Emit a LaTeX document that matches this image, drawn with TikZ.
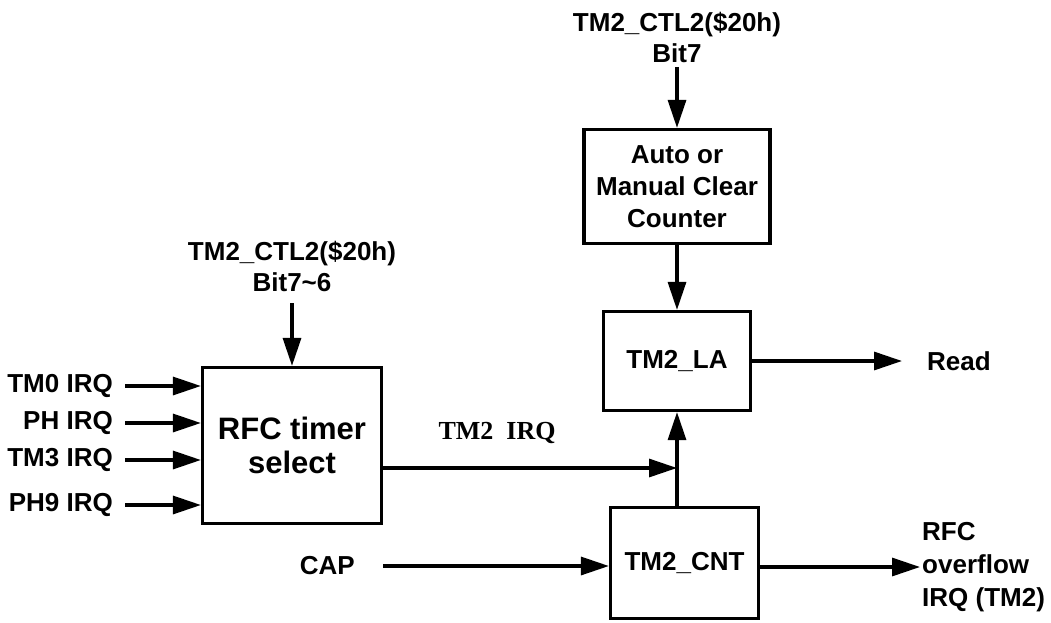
\documentclass[tikz,border=0pt]{standalone}
\usepackage{fontspec}
\setmainfont{Liberation Sans}
\newfontfamily\serifbf{Liberation Serif}
\usetikzlibrary{arrows.meta}

\begin{document}
\begin{tikzpicture}[x=1pt, y=-1pt,
  every node/.style={font=\fontsize{26}{31}\selectfont\bfseries, inner sep=0pt},
  blk/.style={draw, line width=3.2pt, align=center},
  arr/.style={line width=3.2pt, -{Triangle[length=28pt, width=18pt]}}]
  \useasboundingbox (0,0) rectangle (1051,623);

  % blocks
  \node[blk, minimum width=179pt, minimum height=156pt,
        font=\fontsize{31}{34}\selectfont\bfseries] (rfc) at (292,445.5) {RFC timer\\select};
  \node[blk, minimum width=186pt, minimum height=114pt,
        font=\fontsize{26}{32}\selectfont\bfseries] (clr) at (677,186.5) {Auto or\\Manual Clear\\Counter};
  \node[blk, minimum width=147pt, minimum height=99pt] (la) at (677,361) {TM2\_LA};
  \node[blk, minimum width=148pt, minimum height=111pt] (cnt) at (684.5,563) {TM2\_CNT};

  % control registers
  \node[align=center, anchor=south] (ctlb) at (677,63) {TM2\_CTL2(\$20h)\\Bit7};
  \node[align=center, anchor=south] (ctla) at (292,292) {TM2\_CTL2(\$20h)\\Bit7\textasciitilde6};
  \draw[arr, shorten <=4pt] (ctlb.south) -- (clr.north);
  \draw[arr, shorten <=11pt] (ctla.south) -- (rfc.north);

  % interrupt sources
  \node[anchor=east] (tm0) at (113,386) {TM0 IRQ};
  \node[anchor=east] (ph) at (113,423) {PH IRQ};
  \node[anchor=east] (tm3) at (113,460) {TM3 IRQ};
  \node[anchor=east] (ph9) at (113,505) {PH9 IRQ};
  \draw[arr, shorten <=12pt] (tm0.east) -- (tm0.east -| rfc.west);
  \draw[arr, shorten <=12pt] (ph.east) -- (ph.east -| rfc.west);
  \draw[arr, shorten <=12pt] (tm3.east) -- (tm3.east -| rfc.west);
  \draw[arr, shorten <=12pt] (ph9.east) -- (ph9.east -| rfc.west);

  % selected irq to latch
  \coordinate (j) at (677,468);
  \draw[arr] (rfc.east |- j) -- (j);
  \node[font=\fontsize{26}{30}\selectfont\serifbf\bfseries] (irq) at (497,433) {TM2\ \ IRQ};
  \draw[arr] (cnt.north -| la.south) -- (la.south);
  \draw[arr] (clr.south) -- (la.north);

  % capture input
  \node[anchor=east] (cap) at (355,566) {CAP};
  \draw[arr, shorten <=28pt] (cap.east) -- (cap.east -| cnt.west);

  % outputs
  \node[anchor=west] (read) at (927,361) {Read};
  \draw[arr, shorten >=25pt] (la.east) -- (read.west);
  \node[anchor=west, align=left, font=\fontsize{26}{33}\selectfont\bfseries] (ovf) at (922,567) {RFC\\overflow\\IRQ (TM2)};
  \draw[arr, shorten >=2pt] (cnt.east |- ovf.west) -- (ovf.west);
\end{tikzpicture}
\end{document}
